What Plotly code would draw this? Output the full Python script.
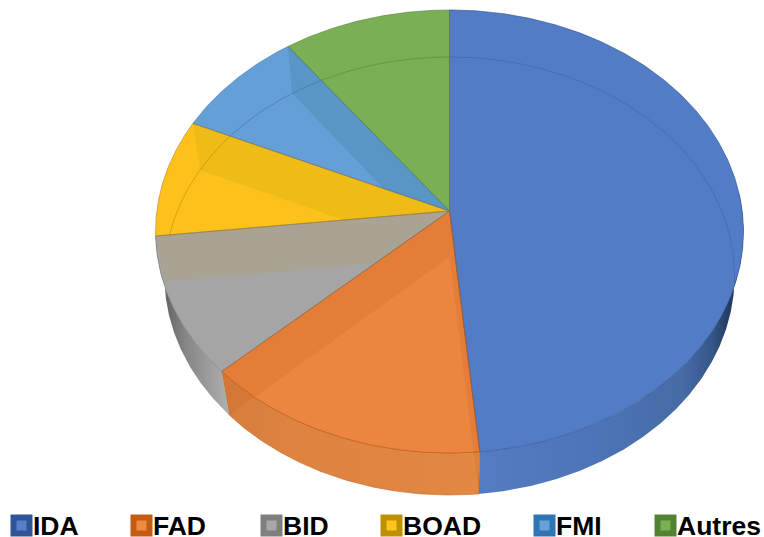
import math
import plotly.graph_objects as go

categories = ["IDA", "FAD", "BID", "BOAD", "FMI", "Autres"]
shares = [48.5, 14.5, 10.2, 8.6, 8.1, 10.1]

W, H = 764, 537
CX = 449.5
TOP = dict(y0=211.0, A=292.7, B=219.6, k=0.0925)   # top face projection
BOT = dict(y0=257.0, A=284.0, B=217.4, k=0.0868)   # bottom face projection

face_colors = ["#527DC6", "#EC853F", "#A5A5A5", "#FCC21B", "#659FD8", "#7AAF56"]
edge_colors = ["rgba(45,80,145,0.7)", "rgba(185,85,20,0.75)", "rgba(120,115,100,0.6)",
               "rgba(170,125,40,0.6)", "rgba(60,110,160,0.6)", "rgba(85,125,65,0.6)"]
rim_colors = ["rgba(45,80,150,0.45)", None, None, "rgba(170,125,10,0.6)",
              "rgba(50,100,160,0.6)", "rgba(75,125,50,0.6)"]
inner_wall = {1: "rgba(190,90,20,0.17)", 2: "#A8A393", 3: "#EFBB17", 4: "#5896C5"}
outer_wall = {
    0: [[0, "#547CC2"], [0.45, "#4C74B6"], [0.77, "#466BA5"], [0.88, "#35578A"], [0.93, "#28426C"], [1, "#1B2E4E"]],
    1: [[0, "#D77E3E"], [0.3, "#DE8340"], [1, "#E28843"]],
    2: [[0, "#555555"], [0.4, "#858585"], [1, "#B0B0B0"]],
}
swatch_dark = ["#2F5597", "#C55A11", "#7F7F7F", "#BF9000", "#2E75B6", "#548235"]
swatch_light = ["#5480CC", "#ED8B45", "#A8A8A8", "#FFC51C", "#67A2DB", "#78B054"]
legend_x = [10, 130, 260, 380, 533, 654]
legend_y = 525.5

total = sum(shares)
edges = [0.0]
for s in shares:
    edges.append(edges[-1] + s / total * 360.0)


def proj(deg, p, r=1.0):
    a = math.radians(deg)
    u, v = r * math.sin(a), r * math.cos(a)
    w = 1 + p["k"] * v
    return CX + p["A"] * u / w, p["y0"] - p["B"] * v / w


def unproj(x, y, p):
    dy = y - p["y0"]
    v = -dy / (p["B"] + p["k"] * dy)
    w = 1 + p["k"] * v
    u = (x - CX) * w / p["A"]
    return u, v


def arc(d0, d1, p, step=0.5):
    n = max(2, int(abs(d1 - d0) / step) + 1)
    return [proj(d0 + (d1 - d0) * i / (n - 1), p) for i in range(n)]


def clip_halfplane(poly, a, b, keep):
    def side(q):
        return (b[0] - a[0]) * (q[1] - a[1]) - (b[1] - a[1]) * (q[0] - a[0])
    s_keep = 1 if side(keep) > 0 else -1
    out = []
    for i, q in enumerate(poly):
        r = poly[(i + 1) % len(poly)]
        sq, sr = side(q) * s_keep, side(r) * s_keep
        if sq >= 0:
            out.append(q)
        if sq * sr < 0:
            t = sq / (sq - sr)
            out.append((q[0] + (r[0] - q[0]) * t, q[1] + (r[1] - q[1]) * t))
    return out


def polygon(pts, color, line=None, width=0.0, **kw):
    xs = [q[0] for q in pts] + [pts[0][0]]
    ys = [q[1] for q in pts] + [pts[0][1]]
    return go.Scatter(x=xs, y=ys, mode="lines", fill="toself", fillcolor=color,
                      line=dict(color=line or "rgba(0,0,0,0)", width=width),
                      hoverinfo="skip", showlegend=False, **kw)


fig = go.Figure()
apex_t = (CX, TOP["y0"])
apex_b = (CX, BOT["y0"])

# outer cylinder wall, behind everything
wall_range = {0: (85.0, edges[1]), 1: (edges[1], edges[2]), 2: (edges[2], edges[3])}
for i, (d0, d1) in wall_range.items():
    pts = arc(d0, d1, TOP) + arc(d1, d0, BOT)
    fig.add_trace(polygon(pts, "#888888", line=edge_colors[i] if i == 1 else None,
                          width=0.6 if i == 1 else 0,
                          fillgradient=dict(type="horizontal", colorscale=outer_wall[i])))

# top faces
for i in range(len(shares)):
    pts = [apex_t] + arc(edges[i], edges[i + 1], TOP)
    fig.add_trace(polygon(pts, face_colors[i]))

# inner radial walls, seen through the translucent faces
for i, col in inner_wall.items():
    d0, d1 = edges[i], edges[i + 1]
    quad = [apex_t, proj(d1, TOP), proj(d1, BOT), apex_b]
    if i != 1:
        keep = proj((d0 + d1) / 2, TOP)
        quad = clip_halfplane(quad, apex_t, proj(d0, TOP), keep)
    fig.add_trace(polygon(quad, col))
    if i == 1:
        fig.add_trace(polygon([apex_t, proj(d0, TOP), proj(d0, BOT), apex_b], col))

# rim of the bottom face, seen through the faces
for i, col in enumerate(rim_colors):
    if col is None:
        continue
    xs, ys = [], []
    on = False
    t = 0.0
    while t <= 360.0:
        x, y = proj(t, BOT)
        u, v = unproj(x, y, TOP)
        ang = math.degrees(math.atan2(u, v)) % 360
        inside = (u * u + v * v <= 1.0) and edges[i] <= ang <= edges[i + 1]
        if inside:
            xs.append(x)
            ys.append(y)
            on = True
        elif on:
            xs.append(None)
            ys.append(None)
            on = False
        t += 0.25
    fig.add_trace(go.Scatter(x=xs, y=ys, mode="lines", line=dict(color=col, width=0.8),
                             hoverinfo="skip", showlegend=False))

# slice outlines
for i in range(len(shares)):
    pts = [apex_t] + arc(edges[i], edges[i + 1], TOP) + [apex_t]
    fig.add_trace(go.Scatter(x=[q[0] for q in pts], y=[q[1] for q in pts], mode="lines",
                             line=dict(color=edge_colors[i], width=0.9),
                             hoverinfo="skip", showlegend=False))

# legend
for i, name in enumerate(categories):
    fig.add_trace(go.Scatter(x=[legend_x[i] + 11.5], y=[legend_y], mode="markers",
                             marker=dict(symbol="square", size=22, color=swatch_dark[i]),
                             hoverinfo="skip", showlegend=False))
    fig.add_trace(go.Scatter(x=[legend_x[i] + 11.5], y=[legend_y], mode="markers",
                             marker=dict(symbol="square", size=10, color=swatch_light[i]),
                             hoverinfo="skip", showlegend=False))
    fig.add_annotation(x=legend_x[i] + 23, y=legend_y, text="<b>%s</b>" % name,
                       showarrow=False, xanchor="left", yanchor="middle", xshift=0,
                       font=dict(family="Liberation Sans", size=26.5, color="#000000"),
                       borderpad=0, borderwidth=0)

fig.update_layout(
    width=W, height=H, margin=dict(l=0, r=0, t=0, b=0),
    paper_bgcolor="#FFFFFF", plot_bgcolor="#FFFFFF", showlegend=False,
    xaxis=dict(range=[0, W], visible=False, fixedrange=True),
    yaxis=dict(range=[H, 0], visible=False, fixedrange=True),
)
fig.write_html("out.html", config={"displayModeBar": False, "staticPlot": True},
               post_script="document.body.style.margin='0';document.documentElement.style.overflow='hidden';")
